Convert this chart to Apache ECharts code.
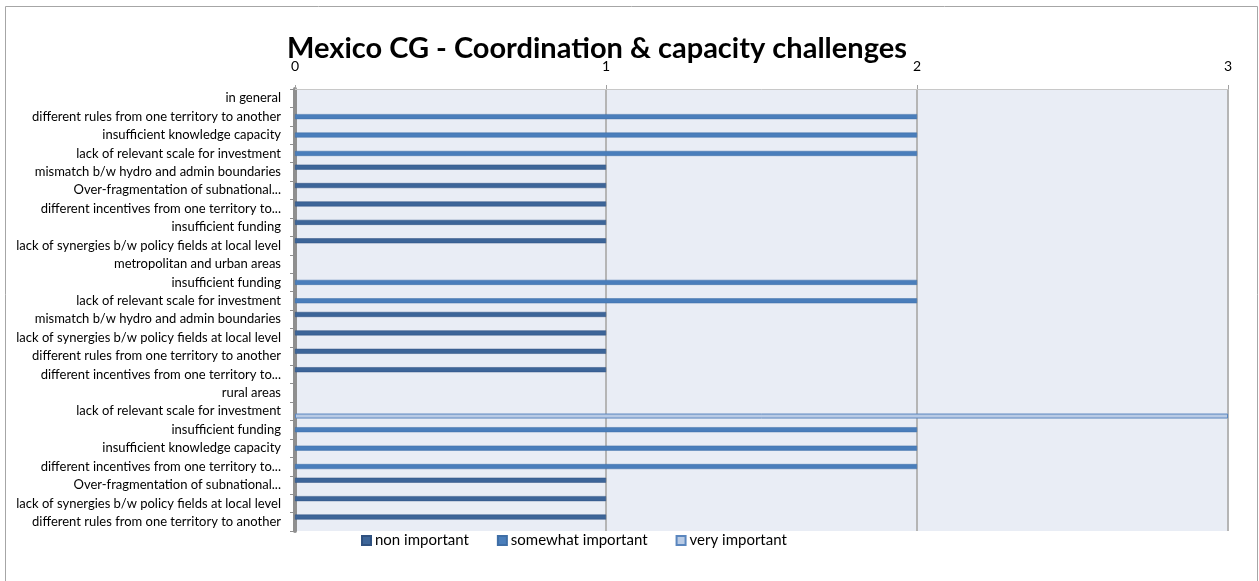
<!DOCTYPE html>
<html>
<head>
<meta charset="utf-8">
<script src="https://cdn.jsdelivr.net/npm/echarts@6/dist/echarts.min.js"></script>
<style>
  html, body { margin: 0; padding: 0; background: #fff; }
  #chart { width: 1259px; height: 581px; }
</style>
</head>
<body>
<div id="chart"></div>
<script>
// categories, top to bottom
const categories = [
  'in general',
  'different rules from one territory to another',
  'insufficient knowledge capacity',
  'lack of relevant scale for investment',
  'mismatch b/w hydro and admin boundaries',
  'Over-fragmentation of subnational...',
  'different incentives from one territory to...',
  'insufficient funding',
  'lack of synergies b/w policy fields at local level',
  'metropolitan and urban areas',
  'insufficient funding',
  'lack of relevant scale for investment',
  'mismatch b/w hydro and admin boundaries',
  'lack of synergies b/w policy fields at local level',
  'different rules from one territory to another',
  'different incentives from one territory to...',
  'rural areas',
  'lack of relevant scale for investment',
  'insufficient funding',
  'insufficient knowledge capacity',
  'different incentives from one territory to...',
  'Over-fragmentation of subnational...',
  'lack of synergies b/w policy fields at local level',
  'different rules from one territory to another'
]

const nonImportant      = [0, 0, 0, 0, 1, 1, 1, 1, 1, 0, 0, 0, 1, 1, 1, 1, 0, 0, 0, 0, 0, 1, 1, 1]
const somewhatImportant = [0, 2, 2, 2, 0, 0, 0, 0, 0, 0, 2, 2, 0, 0, 0, 0, 0, 0, 2, 2, 2, 0, 0, 0]
const veryImportant     = [0, 0, 0, 0, 0, 0, 0, 0, 0, 0, 0, 0, 0, 0, 0, 0, 0, 3, 0, 0, 0, 0, 0, 0]

const xTicks = [0, 1, 2, 3]

// zero answers draw no bar
const hideZero = arr => arr.map(v => (v === 0 ? '-' : v))

const chart = echarts.init(document.getElementById('chart'))

chart.setOption({
  animation: false,
  textStyle: { fontFamily: 'Lato' },
  title: {
    text: 'Mexico CG - Coordination & capacity challenges',
    left: 592,
    textAlign: 'center',
    top: 29,
    textStyle: { fontFamily: 'Lato', fontSize: 29, fontWeight: 'bold', color: '#000' }
  },
  graphic: [{
    type: 'rect',
    shape: { x: 5.5, y: 6.5, width: 1252, height: 590 },
    style: { fill: 'none', stroke: '#a6a6a6', lineWidth: 1 },
    silent: true
  }],
  legend: {
    bottom: 28,
    left: 356,
    icon: 'rect',
    itemWidth: 9,
    itemHeight: 9,
    itemGap: 28,
    textStyle: { fontFamily: 'Lato', fontSize: 15, color: '#000', padding: [0, 0, 0, -1] },
    data: [
      { name: 'non important' },
      { name: 'somewhat important' },
      { name: 'very important' }
    ]
  },
  grid: {
    left: 295,
    right: 31,
    top: 89,
    bottom: 50,
    show: true,
    backgroundColor: '#e9edf5',
    borderWidth: 0
  },
  xAxis: {
    type: 'value',
    position: 'top',
    min: xTicks[0],
    max: xTicks[xTicks.length - 1],
    interval: 1,
    axisLine: { show: true, lineStyle: { color: '#c8c8c8', width: 1 } },
    axisTick: { show: true, length: 4, lineStyle: { color: '#a0a0a0' } },
    axisLabel: { margin: 16, fontSize: 14, color: '#000', fontFamily: 'Lato' },
    splitLine: { show: true, lineStyle: { color: '#b5b5b5', width: 2 } }
  },
  yAxis: {
    type: 'category',
    inverse: true,
    data: categories,
    axisLine: { show: true, lineStyle: { color: '#8f8f8f', width: 4 } },
    axisTick: { show: true, length: 5, lineStyle: { color: '#8f8f8f' } },
    axisLabel: { margin: 14, fontSize: 13, color: '#000', fontFamily: 'Lato' },
    splitLine: { show: false }
  },
  series: [
    {
      name: 'non important',
      type: 'bar',
      barWidth: 5,
      barGap: '-5%',
      data: hideZero(nonImportant),
      itemStyle: { color: '#3d6598', borderColor: '#2f5180', borderWidth: 0.5 }
    },
    {
      name: 'somewhat important',
      type: 'bar',
      barWidth: 5,
      barGap: '-5%',
      data: hideZero(somewhatImportant),
      itemStyle: { color: '#4a7ebb', borderColor: '#3f6ea6', borderWidth: 0.5 }
    },
    {
      name: 'very important',
      type: 'bar',
      barWidth: 5,
      barGap: '-5%',
      data: hideZero(veryImportant),
      itemStyle: { color: '#b9cbe5', borderColor: '#5a86be', borderWidth: 1 }
    }
  ]
})
</script>
</body>
</html>
